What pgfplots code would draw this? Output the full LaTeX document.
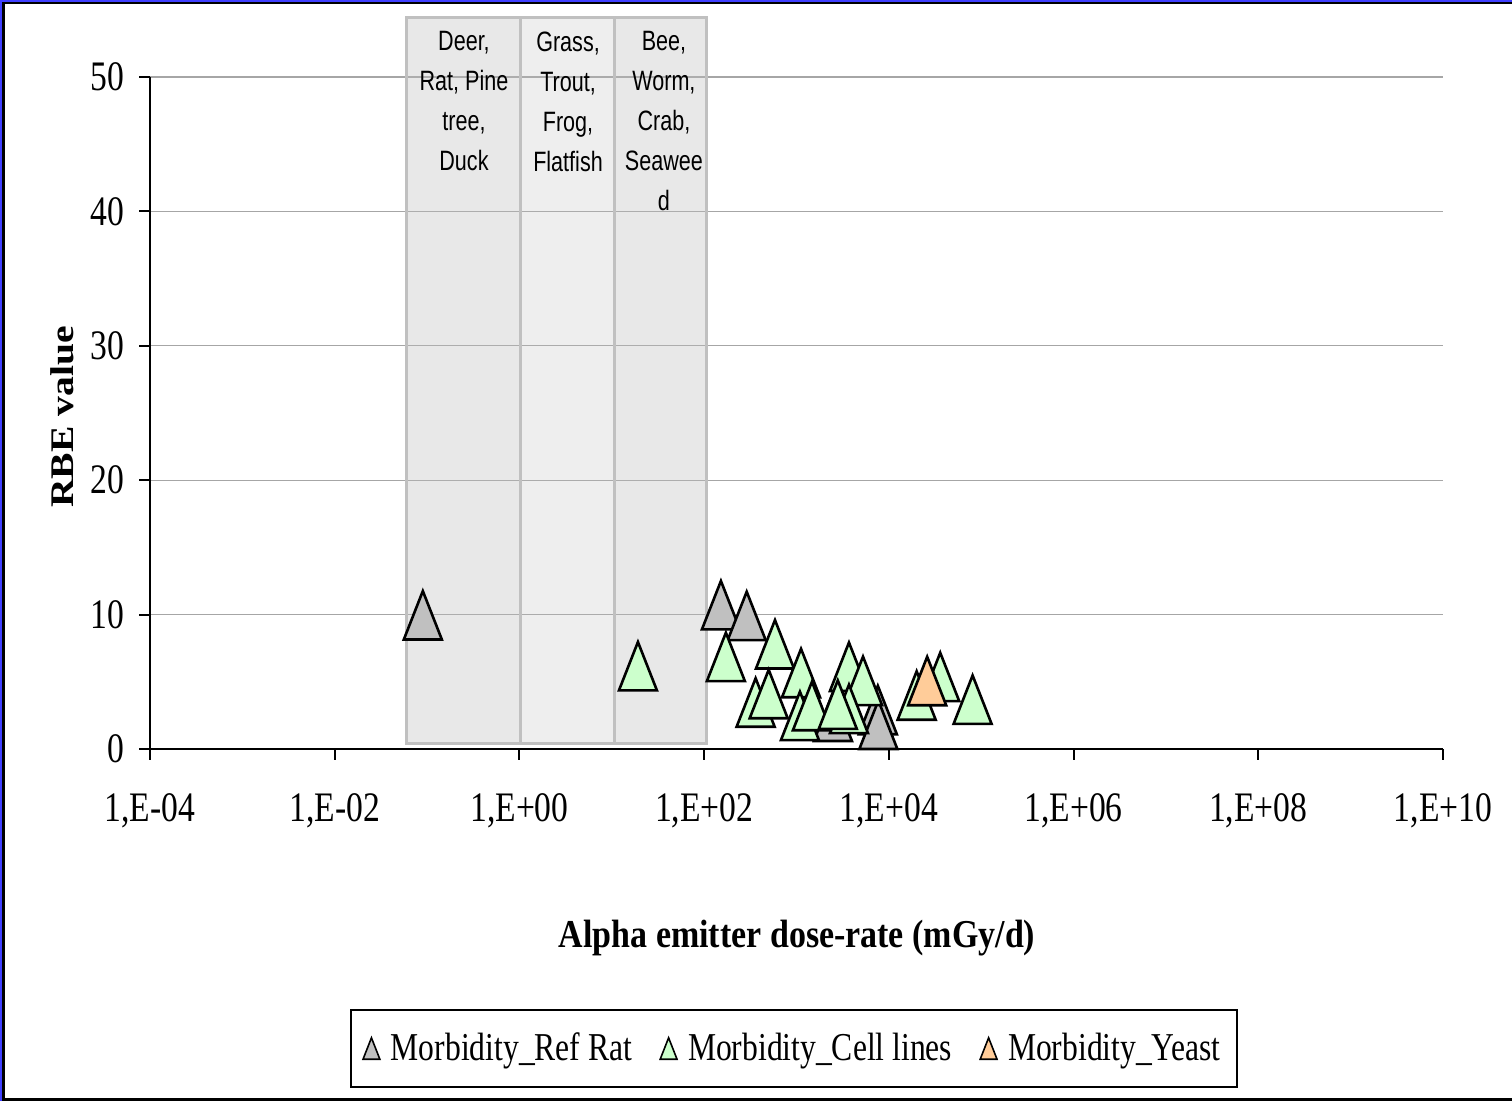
\documentclass[border=0pt]{standalone}
\usepackage{pgfplots}
\pgfplotsset{compat=1.18}
\usepackage{fontspec}
\setmainfont{Liberation Serif}[FakeStretch=0.8]
\newfontfamily\xlabfont{Liberation Serif}[FakeStretch=0.86]
\newfontfamily\ylabfont{Liberation Serif}[FakeStretch=1.2]
\newfontfamily\annfont{Liberation Sans}[FakeStretch=0.77]
\definecolor{refgray}{RGB}{192,192,192}
\definecolor{cellgreen}{RGB}{204,255,204}
\definecolor{yeast}{RGB}{255,204,153}
\definecolor{frameblue}{RGB}{64,64,255}
\definecolor{boxborder}{RGB}{192,192,192}
\definecolor{ovgray}{RGB}{188,188,188}
\pgfdeclareplotmark{xtri}{%
  \pgfpathmoveto{\pgfpoint{0pt}{1.275\pgfplotmarksize}}%
  \pgfpathlineto{\pgfpoint{-\pgfplotmarksize}{-1.275\pgfplotmarksize}}%
  \pgfpathlineto{\pgfpoint{\pgfplotmarksize}{-1.275\pgfplotmarksize}}%
  \pgfpathclose
  \pgfusepathqfillstroke}
\begin{document}
\begin{tikzpicture}
\path[use as bounding box] (0,0) rectangle (756pt,550.5pt);
\fill[white] (0,0) rectangle (756pt,550.5pt);
\begin{axis}[
  at={(75pt,176pt)}, anchor=south west,
  scale only axis, width=646.5pt, height=336pt,
  xmode=log, xmin=1e-4, xmax=1e10, ymin=0, ymax=50,
  xtick={1e-4,1e-2,1,1e2,1e4,1e6,1e8,1e10},
  xticklabels={{1,E-04},{1,E-02},{1,E+00},{1,E+02},{1,E+04},{1,E+06},{1,E+08},{1,E+10}},
  minor xtick={},
  ytick={0,10,20,30,40,50},
  yticklabels={0,10,20,30,40,50},
  axis x line*=bottom, axis y line*=left,
  axis line style={line width=1.2pt, black},
  tick align=outside, major tick length=5.5pt,
  tick style={line width=1pt, black},
  ymajorgrids, grid style={line width=0.6pt, black!35},
  ticklabel style={font=\fontsize{21}{23}\selectfont},
  xticklabel style={yshift=-13.5pt},
  yticklabel style={xshift=-4pt},
  xlabel={\xlabfont\bfseries Alpha emitter dose-rate (mGy/d)},
  xlabel style={at={(axis description cs:0.5004,-0.281)}, anchor=center, font=\fontsize{19.75}{22}\selectfont},
  ylabel={\ylabfont\bfseries RBE value},
  ylabel style={at={(axis description cs:-0.068,0.494)}, anchor=center, font=\fontsize{16.5}{18}\selectfont},
  clip=false,
  legend columns=3,
  legend style={at={(0.498,-0.4457)}, anchor=center, draw=black, line width=1pt,
    font=\fontsize{19.75}{22}\selectfont, inner xsep=6pt, inner ysep=9.5pt,
    /tikz/every odd column/.append style={column sep=3.5pt},
    /tikz/every even column/.append style={column sep=12pt}},
  legend image code/.code={\draw[#1, mark size=4.2pt, line width=0.8pt] plot coordinates {(0pt,0pt)};},
]
\addplot[only marks, mark=xtri, mark size=9.5pt, line width=1.3pt, draw=black, fill=refgray, mark options={fill=refgray}]
  coordinates {(0.09,9.95) (152,10.7) (289,9.9) (2480,2.4) (7600,2.9) (7700,1.8)};
\addlegendentry{Morbidity\_Ref Rat}
\addplot[only marks, mark=xtri, mark size=9.5pt, line width=1.3pt, draw=black, fill=cellgreen, mark options={fill=cellgreen}]
  coordinates {(19.2,6.16) (172,6.85) (585,7.79) (361,3.46) (500,4.09) (1120,5.65) (1090,2.46) (1470,3.2) (3700,6.12) (5250,5.07) (3700,2.98) (2800,3.3) (20000,3.98) (36000,5.36) (80700,3.67)};
\addlegendentry{Morbidity\_Cell lines}
\addplot[only marks, mark=xtri, mark size=9.5pt, line width=1.3pt, draw=black, fill=yeast, mark options={fill=yeast}]
  coordinates {(26000,5.06)};
\addlegendentry{Morbidity\_Yeast}
\fill[ovgray, opacity=0.34] (axis cs:0.06,0.4) rectangle (axis cs:1.03,54.46);
\fill[ovgray, opacity=0.24] (axis cs:1.03,0.4) rectangle (axis cs:10.6,54.46);
\fill[ovgray, opacity=0.34] (axis cs:10.6,0.4) rectangle (axis cs:105,54.46);
\draw[boxborder, line width=1.5pt] (axis cs:0.06,0.4) rectangle (axis cs:1.03,54.46);
\draw[boxborder, line width=1.5pt] (axis cs:1.03,0.4) rectangle (axis cs:10.6,54.46);
\draw[boxborder, line width=1.5pt] (axis cs:10.6,0.4) rectangle (axis cs:105,54.46);
\node[anchor=north, inner sep=0pt, align=center, font=\annfont\fontsize{14}{20}\selectfont] at (axis cs:0.251,53.4) {Deer,\\Rat, Pine\\tree,\\Duck};
\node[anchor=north, inner sep=0pt, align=center, font=\annfont\fontsize{14}{20}\selectfont] at (axis cs:3.36,53.4) {Grass,\\Trout,\\Frog,\\Flatfish};
\node[anchor=north, inner sep=0pt, align=center, font=\annfont\fontsize{14}{20}\selectfont] at (axis cs:36.7,53.4) {Bee,\\Worm,\\Crab,\\Seawee\\d};
\end{axis}
\fill[frameblue] (0,0) rectangle (1.1pt,550.5pt);
\fill[frameblue] (0,549.7pt) rectangle (756pt,550.5pt);
\fill[black] (1.1pt,0) rectangle (2.4pt,549.7pt);
\fill[black] (1.1pt,548.3pt) rectangle (756pt,549.7pt);
\fill[black] (1.1pt,0) rectangle (756pt,1.5pt);
\end{tikzpicture}
\end{document}
